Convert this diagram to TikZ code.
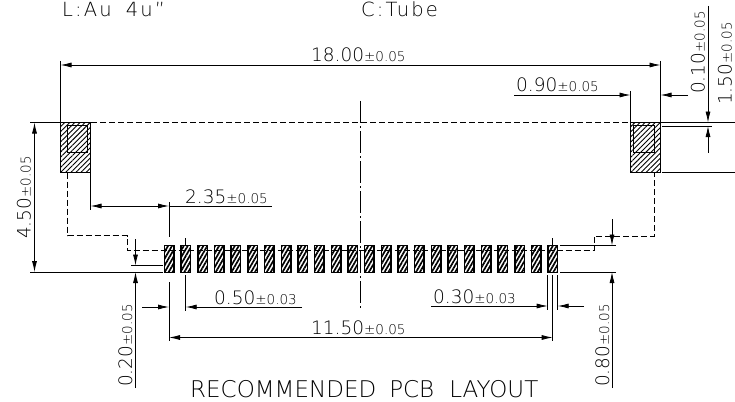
\documentclass[tikz,border=0pt]{standalone}
\usepackage{fontspec}
\setmainfont{DejaVu Sans ExtraLight}
\usetikzlibrary{arrows.meta,patterns.meta}
\newcommand{\tol}[1]{{\fontsize{13.5}{13.5}\selectfont ±#1}}
\tikzset{
	dimarrow/.style={-{Latex[length=11pt,width=5pt]}, line width=0.8pt},
	dimboth/.style={{Latex[length=11pt,width=5pt]}-{Latex[length=11pt,width=5pt]}, line width=0.8pt},
	thinline/.style={line width=0.8pt},
	outline/.style={dash pattern=on 6pt off 3pt, line width=0.9pt},
	center/.style={line width=0.8pt, dash pattern=on 22pt off 3pt on 2pt off 3pt},
	pad/.style={draw, line width=1.5pt, pattern={Lines[angle=45, distance=3.6pt, line width=0.9pt]}},
	padsmall/.style={draw, line width=1.5pt, pattern={Lines[angle=60, distance=3.4pt, line width=1.7pt]}},
	dimtext/.style={anchor=base west, inner sep=0pt, font=\fontsize{18.5}{18.5}\selectfont},
	dimvert/.style={dimtext, rotate=90},
	title/.style={dimtext, font=\fontsize{19.5}{19.5}\selectfont\addfontfeatures{LetterSpace=11}}
}
\begin{document}
\begin{tikzpicture}[x=1pt, y=-1pt]
	\useasboundingbox (0, 0) rectangle (735, 401);
	\fill[white] (0, 0) rectangle (735, 401);
	% pads
	\draw[pad] (60.5, 122.5) rectangle (90.5, 172.5);
	\draw[pad] (630.5, 122.5) rectangle (660.5, 172.5);
	\draw[thinline] (67.7, 125.5) rectangle (87.7, 152.5);
	\draw[thinline] (633.5, 125.5) rectangle (654, 152.5);
	\foreach \i in {0,...,23}
		\draw[padsmall] ({164.5 + \i*16.68}, 245.5) rectangle +(9.5, 27);
	% board outline
	\draw[outline] (91, 122.5) -- (630, 122.5);
	\draw[outline] (67.7, 172.5) -- (67.7, 235.5) -- (127, 235.5) -- (127, 250.5) -- (594, 250.5) -- (594, 236) -- (654, 236) -- (654, 172.5);
	\draw[center] (360.5, 101) -- (360.5, 308);
	% 18.00
	\draw[thinline] (60.5, 61) -- (60.5, 122);
	\draw[thinline] (660.5, 61) -- (660.5, 122);
	\draw[dimboth] (60.5, 65) -- (660.5, 65);
	\node[dimtext] (total) at (311, 62) {18.00\tol{0.05}};
	% 0.90
	\draw[thinline] (630.5, 91) -- (630.5, 122);
	\draw[dimarrow] (514, 95) -- (630.5, 95);
	\draw[dimarrow] (688, 95) -- (660.5, 95);
	\node[dimtext] (slot) at (516, 92) {0.90\tol{0.05}};
	% 0.10
	\draw[thinline] (661, 122.5) -- (735, 122.5);
	\draw[thinline] (662, 126) -- (712, 126);
	\draw[dimarrow] (708, 6) -- (708, 122.5);
	\draw[dimarrow] (708, 152.5) -- (708, 126);
	\node[dimvert] (lip) at (704.5, 94) {0.10\tol{0.05}};
	% 1.50
	\draw[thinline] (662, 172.5) -- (735, 172.5);
	\node[dimvert] (ear) at (731.5, 105) {1.50\tol{0.05}};
	% 4.50
	\draw[thinline] (30, 122.5) -- (60, 122.5);
	\draw[thinline] (30, 272) -- (163, 272);
	\draw[dimboth] (34.5, 122.5) -- (34.5, 272);
	\node[dimvert] (depth) at (30.5, 239) {4.50\tol{0.05}};
	% 2.35
	\draw[thinline] (90.5, 173) -- (90.5, 210);
	\draw[thinline] (169, 202) -- (169, 237);
	\draw[dimboth] (90.5, 206) -- (169, 206);
	\draw[thinline] (169, 206) -- (272, 206);
	\node[dimtext] (offset) at (185, 203) {2.35\tol{0.05}};
	% 0.50
	\draw[thinline] (169, 282) -- (169, 341);
	\draw[thinline] (185.7, 238) -- (185.7, 245);
	\draw[thinline] (185.7, 275) -- (185.7, 311);
	\draw[dimarrow] (142, 307) -- (169, 307);
	\draw[dimarrow] (302, 307) -- (185.7, 307);
	\node[dimtext] (pitch) at (214, 304) {0.50\tol{0.03}};
	% 0.30
	\draw[thinline] (547.7, 275) -- (547.7, 310);
	\draw[thinline] (557.7, 275) -- (557.7, 310);
	\draw[thinline] (552.7, 238) -- (552.7, 245);
	\draw[thinline] (552.7, 275) -- (552.7, 341);
	\draw[dimarrow] (431, 306) -- (547.7, 306);
	\draw[dimarrow] (584, 306) -- (557.7, 306);
	\node[dimtext] (width) at (433, 303) {0.30\tol{0.03}};
	% 11.50
	\draw[dimboth] (169, 337.5) -- (552.7, 337.5);
	\node[dimtext] (span) at (311, 334) {11.50\tol{0.05}};
	% 0.20
	\draw[thinline] (131, 265.5) -- (163, 265.5);
	\draw[dimarrow] (135.5, 239) -- (135.5, 265.5);
	\draw[dimarrow] (135.5, 388) -- (135.5, 272);
	\node[dimvert] (gap) at (132, 387) {0.20\tol{0.05}};
	% 0.80
	\draw[thinline] (560, 245.5) -- (616, 245.5);
	\draw[thinline] (560, 272) -- (616, 272);
	\draw[dimarrow] (612, 219) -- (612, 245.5);
	\draw[dimarrow] (612, 388) -- (612, 272);
	\node[dimvert] (length) at (609, 387) {0.80\tol{0.05}};
	% titles
	\node[title] (plating) at (62, 17) {L:Au\hspace{14pt}4u"};
	\node[title] (packing) at (361, 17) {C:Tube};
	\node[dimtext, font=\fontsize{23}{23}\selectfont] (heading) at (190, 397) {RECOMMENDED\hspace{13pt}PCB\hspace{15pt}LAYOUT};
\end{tikzpicture}
\end{document}
